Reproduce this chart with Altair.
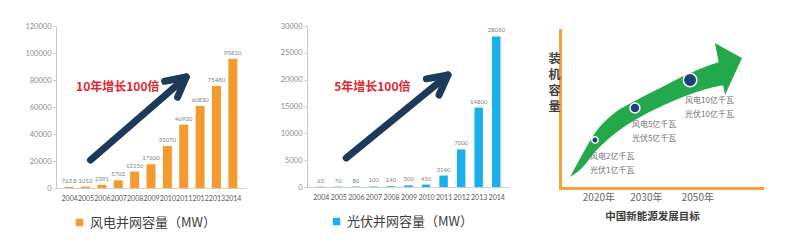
import altair as alt
import pandas as pd

FONT = "Noto Sans CJK SC"
NUM_FONT = "Lato"
NAVY = "#1d3a5a"
ORANGE = "#f59a2f"
BLUE = "#1cb0ea"
GREEN = "#23a94b"
AXIS_ORANGE = "#f6a23c"

# ---------------- data: left & middle panels ----------------
years = [2004, 2005, 2006, 2007, 2008, 2009, 2010, 2011, 2012, 2013, 2014]
wind_mw = [763.8, 1052, 2391, 5702, 12150, 17600, 31070, 46920, 60830, 75480, 95810]
solar_mw = [65, 70, 80, 100, 140, 300, 450, 2140, 7000, 14800, 28050]
wind_series = "风电并网容量（MW）"
solar_series = "光伏并网容量（MW）"
wind_ticks = [0, 20000, 40000, 60000, 80000, 100000, 120000]
solar_ticks = [0, 5000, 10000, 15000, 20000, 25000, 30000]

wind_note = ["10年增长100倍"]
wind_note_year = [2006.97]
wind_note_mw = [74800]
wind_arrow_year = [2005.3, 2011.15]
wind_arrow_mw = [20700, 82200]

solar_note = ["5年增长100倍"]
solar_note_year = [2006.94]
solar_note_mw = [18630]
solar_arrow_year = [2005.45, 2011.25]
solar_arrow_mw = [5400, 20870]

# ---------------- data: right panel (schematic, 0-10 units) ----------------
stage_labels = ["2020年", "2030年", "2050年"]
stage_tick_x = [1.9, 4.25, 6.8]
stage_wind = ["风电2亿千瓦", "风电5亿千瓦", "风电10亿千瓦"]
stage_solar = ["光伏1亿千瓦", "光伏5亿千瓦", "光伏10亿千瓦"]
stage_total = [3, 10, 20]
stage_dot_x = [1.73, 3.71, 6.44]
stage_dot_y = [3.04, 5.06, 6.84]
stage_text_x = [1.49, 3.56, 6.19]
stage_text_y = [1.96, 3.99, 5.51]
band_x = [0.5, 1.09, 1.73, 2.57, 3.71, 5.05, 6.34, 7.43, 8.17]
band_top = [0.70, 2.09, 3.48, 4.62, 5.51, 6.39, 7.22, 7.78, 8.10]
band_bottom = [0.70, 1.27, 2.28, 3.29, 4.30, 5.19, 5.89, 6.33, 6.52]
head_x = [7.67, 8.17, 9.01]
head_top = [9.18, 8.82, 8.23]
head_bottom = [9.18, 5.89, 8.23]
y_title = ["装", "机", "容", "量"]
x_title = "中国新能源发展目标"

CHEVRON = "M -0.53 1 L 0 0 L 0.53 1"


def bar_panel(values, series, color, ticks, ymax, xrange, yrange, note, note_x, note_y,
              arrow_x, arrow_y, bar_size, head_angle, legend_x, legend_y):
    df = pd.DataFrame({"year": years, "mw": values,
                       "label": [f"{v:g}" for v in values], "series": series})
    x_scale = alt.Scale(domain=[2003.5, 2014.5], range=xrange, nice=False, zero=False)
    y_scale = alt.Scale(domain=[0, ymax], range=yrange, nice=False, zero=True)
    x_axis = alt.Axis(orient="bottom", offset=yrange[0] - 244, values=years, format="d",
                      ticks=False, tickSize=0, labelPadding=6, labelFontSize=7,
                      labelFont=NUM_FONT, labelColor="#595959", labelFlush=False,
                      labelOverlap=False, domainColor="#d0d0d0", title=None, grid=False)
    y_axis = alt.Axis(orient="left", offset=-xrange[0], values=ticks, format="d",
                      tickSize=3, tickColor="#c8c8c8", domainColor="#c8c8c8",
                      labelFontSize=7.5, labelFont=NUM_FONT, labelColor="#8c8c8c",
                      labelPadding=2, title=None, labelFlush=False, grid=False)
    bars = alt.Chart(df).mark_bar(size=bar_size).encode(
        x=alt.X("year:Q", scale=x_scale, axis=x_axis),
        y=alt.Y("mw:Q", scale=y_scale, axis=y_axis),
        color=alt.Color("series:N", scale=alt.Scale(domain=[series], range=[color]),
                        legend=alt.Legend(orient="none", legendX=legend_x, legendY=legend_y,
                                          title=None, symbolType="square", symbolSize=56,
                                          symbolStrokeWidth=0, labelFontSize=13,
                                          labelFont=FONT, labelColor="#404040",
                                          labelOffset=4)),
    )
    labels = alt.Chart(df).mark_text(baseline="bottom", dy=-3, fontSize=6, font=NUM_FONT,
                                     color="#7f7f7f").encode(
        x="year:Q", y="mw:Q", text="label:N")
    arrow_df = pd.DataFrame({"year": arrow_x, "mw": arrow_y})
    shaft = alt.Chart(arrow_df).mark_line(color=NAVY, strokeWidth=7, strokeCap="round").encode(
        x="year:Q", y="mw:Q")
    head = alt.Chart(arrow_df.tail(1)).mark_point(
        shape=CHEVRON, size=1500, angle=head_angle, filled=False, stroke=NAVY,
        strokeWidth=7, strokeCap="round", strokeJoin="round", opacity=1).encode(
        x="year:Q", y="mw:Q")
    note_df = pd.DataFrame({"year": note_x, "mw": note_y, "note": note})
    note_text = alt.Chart(note_df).mark_text(fontSize=12, fontWeight="bold", color="#e2262b",
                                             align="center", baseline="middle").encode(
        x="year:Q", y="mw:Q", text="note:N")
    return alt.layer(bars, labels, shaft, head, note_text)


wind = bar_panel(wind_mw, wind_series, ORANGE, wind_ticks, 120000, [56, 246], [188, 26],
                 wind_note, wind_note_year, wind_note_mw, wind_arrow_year, wind_arrow_mw,
                 9, 51, 73, 216)
solar = bar_panel(solar_mw, solar_series, BLUE, solar_ticks, 30000, [307, 510], [187, 26],
                  solar_note, solar_note_year, solar_note_mw, solar_arrow_year, solar_arrow_mw,
                  8.5, 52, 330, 215)

# ---------------- right panel ----------------
label_expr = " : ".join(f"datum.value == {v} ? '{l}'"
                        for v, l in zip(stage_tick_x[:-1], stage_labels[:-1]))
label_expr += f" : '{stage_labels[-1]}'"

rx_scale = alt.Scale(domain=[0, 10], range=[560, 762], nice=False, zero=False)
ry_scale = alt.Scale(domain=[0, 10], range=[188, 30], nice=False, zero=False)
rx_axis = alt.Axis(orient="bottom", offset=-56, values=stage_tick_x, labelExpr=label_expr,
                   ticks=False, tickSize=0, labelPadding=4, labelFontSize=10,
                   labelColor="#666666", labelFlush=False, labelOverlap=False,
                   domainColor=AXIS_ORANGE, domainWidth=3, domainCap="square", grid=False,
                   title=x_title, titleX=652, titleY=28, titleBaseline="middle",
                   titleAlign="center", titleFontSize=10.5, titleFontWeight="bold",
                   titleColor="#404040", titleFont=FONT)
ry_axis = alt.Axis(orient="left", offset=-560, labels=False, ticks=False, tickSize=0,
                   domainColor=AXIS_ORANGE, domainWidth=3, domainCap="square", grid=False,
                   title=y_title, titleAngle=0, titleX=-6, titleY=53, titleAlign="center",
                   titleBaseline="top", titleLineHeight=16, titleFontSize=12,
                   titleFontWeight="bold", titleColor="#404040", titleFont=FONT)

band_df = pd.DataFrame({"x": band_x, "y": band_top, "y2": band_bottom})
head_df = pd.DataFrame({"x": head_x, "y": head_top, "y2": head_bottom})
stage_df = pd.DataFrame({"x": stage_dot_x, "y": stage_dot_y, "total": stage_total,
                         "tx": stage_text_x, "ty": stage_text_y,
                         "wind": stage_wind, "solar": stage_solar})

band = alt.Chart(band_df).mark_area(color=GREEN, interpolate="monotone").encode(
    x=alt.X("x:Q", scale=rx_scale, axis=rx_axis),
    y=alt.Y("y:Q", scale=ry_scale, axis=ry_axis),
    y2="y2:Q",
)
arrow_head = alt.Chart(head_df).mark_area(color=GREEN).encode(x="x:Q", y="y:Q", y2="y2:Q")
dots = alt.Chart(stage_df).mark_circle(color="#1d3f7c", stroke="white", strokeWidth=1.5,
                                       opacity=1).encode(
    x="x:Q", y="y:Q",
    size=alt.Size("total:Q", scale=alt.Scale(domain=[3, 20], range=[40, 180]), legend=None),
)
wind_txt = alt.Chart(stage_df).mark_text(align="left", baseline="middle", fontSize=8,
                                         color="#707070").encode(
    x=alt.X("tx:Q"), y=alt.Y("ty:Q"), text="wind:N")
solar_txt = alt.Chart(stage_df).mark_text(align="left", baseline="middle", fontSize=8,
                                          color="#707070", dy=14).encode(
    x=alt.X("tx:Q"), y=alt.Y("ty:Q"), text="solar:N")

right = alt.layer(band, arrow_head, dots, wind_txt, solar_txt)

chart = alt.layer(wind, solar, right).resolve_scale(
    x="independent", y="independent", color="independent", size="independent"
).properties(
    width=800, height=244, padding=0,
    autosize=alt.AutoSizeParams(type="none"),
    background="white",
).configure(font=FONT).configure_view(stroke=None).configure_axis(grid=False)

chart.save("out.html", embed_options={"renderer": "svg", "actions": False})
